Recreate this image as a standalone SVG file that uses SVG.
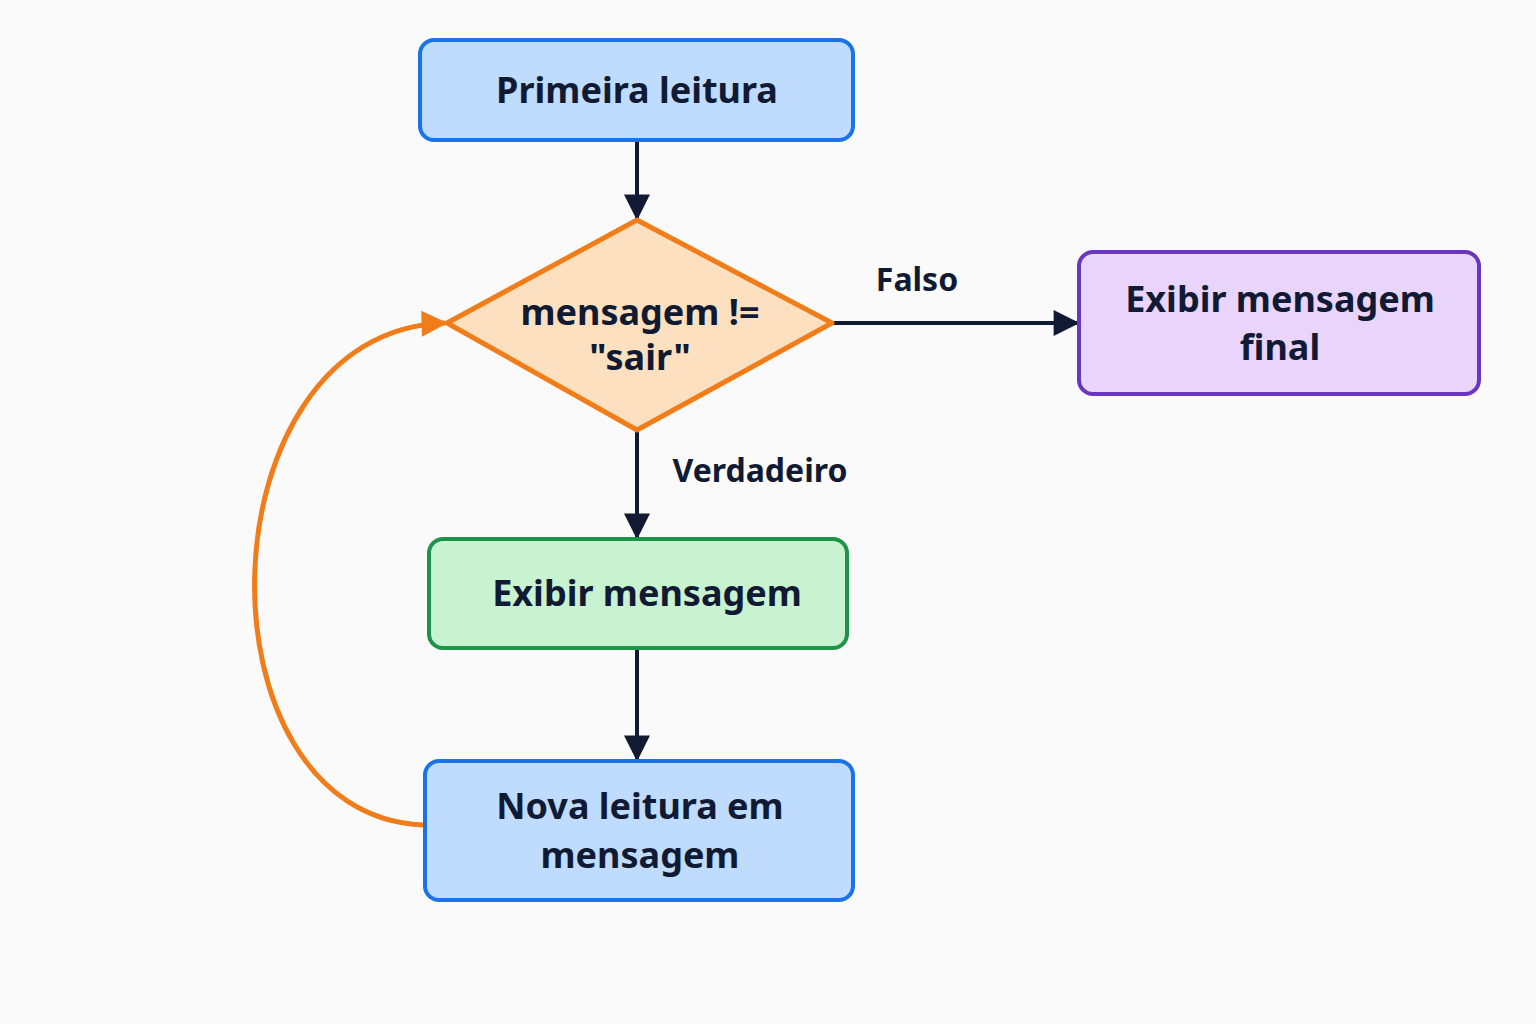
<svg xmlns="http://www.w3.org/2000/svg" width="1536" height="1024" viewBox="0 0 1536 1024">
<style>
.t{font-family:"Noto Sans","Open Sans",sans-serif;font-weight:700;fill:#111a33;text-anchor:middle}
.n{font-size:36px}.l{font-size:32px}
.c{stroke:#111a33;stroke-width:4;fill:none}
</style>
<defs>
<marker id="a" viewBox="0 0 10 10" refX="9" refY="5" markerWidth="28" markerHeight="26" markerUnits="userSpaceOnUse" orient="auto"><path d="M0,0L10,5L0,10z" fill="#111a33"/></marker>
<marker id="o" viewBox="0 0 10 10" refX="9" refY="5" markerWidth="28" markerHeight="26" markerUnits="userSpaceOnUse" orient="auto"><path d="M0,0L10,5L0,10z" fill="#f07d1a"/></marker>
</defs>
<rect width="1536" height="1024" fill="#fafafa"/>
<g id="connectors">
<line class="c" x1="637" y1="140" x2="637" y2="218" marker-end="url(#a)"/>
<line class="c" x1="637" y1="430" x2="637" y2="537" marker-end="url(#a)"/>
<line class="c" x1="832" y1="323" x2="1077" y2="323" marker-end="url(#a)"/>
<line class="c" x1="637" y1="648" x2="637" y2="759" marker-end="url(#a)"/>
<path d="M423,825 C190,815 200,330 445,323" fill="none" stroke="#f07d1a" stroke-width="5" marker-end="url(#o)"/>
<text class="t l" x="917" y="291">Falso</text>
<text class="t l" x="760" y="482">Verdadeiro</text>
</g>
<g id="primeira"><rect x="420" y="40" width="433" height="100" rx="14" fill="#bfdbfe" stroke="#1a73e8" stroke-width="4"/><text class="t n" x="637" y="103">Primeira leitura</text></g>
<g id="decisao"><polygon points="637,220 832,323 637,430 447,323" fill="#fde0bf" stroke="#f07d1a" stroke-width="5" stroke-linejoin="round"/><text class="t n" x="640" y="325">mensagem !=</text><text class="t n" x="640" y="370">"sair"</text></g>
<g id="final"><rect x="1079" y="252" width="400" height="142" rx="14" fill="#e9d5fb" stroke="#6a35c0" stroke-width="4"/><text class="t n" x="1280" y="312">Exibir mensagem</text><text class="t n" x="1280" y="360">final</text></g>
<g id="exibir"><rect x="429" y="539" width="418" height="109" rx="14" fill="#c8f2d0" stroke="#1e9448" stroke-width="4"/><text class="t n" x="647" y="606">Exibir mensagem</text></g>
<g id="nova"><rect x="425" y="761" width="428" height="139" rx="14" fill="#bfdbfe" stroke="#1a73e8" stroke-width="4"/><text class="t n" x="640" y="819">Nova leitura em</text><text class="t n" x="640" y="868">mensagem</text></g>
</svg>
